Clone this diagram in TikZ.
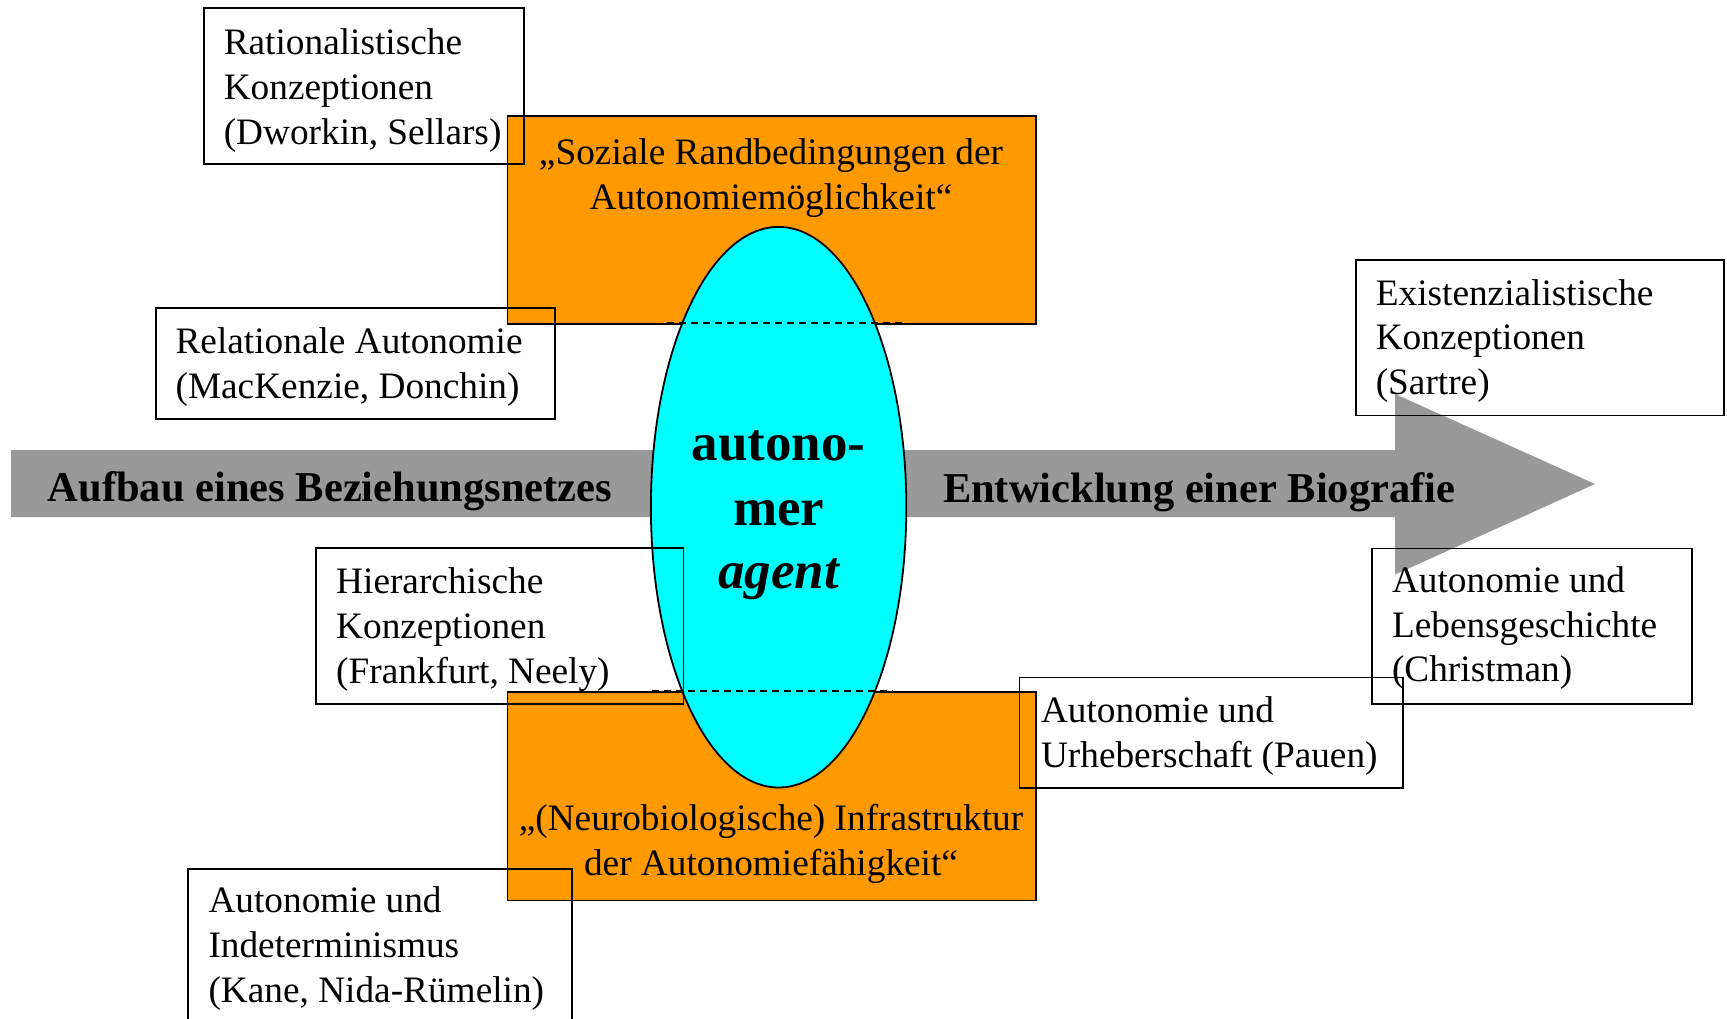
\documentclass[tikz,border=0pt]{standalone}
\usepackage{fontspec}
\setmainfont{Liberation Serif}
\usetikzlibrary{shapes.geometric}

\definecolor{barGrey}{RGB}{153,153,153}
\definecolor{boxOrange}{RGB}{255,153,0}
\definecolor{agentCyan}{RGB}{0,255,255}

% left- and centre-aligned stacks of lines, baseline on the first line
\newcommand\leftlines[1]{\begin{tabular}[t]{@{}l@{}}#1\end{tabular}}
\newcommand\centerlines[1]{\begin{tabular}[t]{@{}c@{}}#1\end{tabular}}

\tikzset{
  frame/.style={draw=black, line width=1.8pt, inner sep=0pt, anchor=north west},
  panel/.style={frame, fill=boxOrange},
  body/.style={inner sep=0pt, anchor=base west, font=\fontsize{37.3}{44.7}\selectfont},
  panelbody/.style={body, anchor=base},
  bartext/.style={inner sep=0pt, anchor=base west, font=\fontsize{42.5}{51}\selectfont\bfseries},
  agenttext/.style={inner sep=0pt, anchor=base, font=\fontsize{53}{64}\selectfont\bfseries},
  hidden edge/.style={line width=1.9pt, dash pattern=on 7pt off 5pt},
}

\begin{document}
\begin{tikzpicture}[x=1pt,y=-1pt]
\useasboundingbox (0,0) rectangle (1727,1019);
\clip (0,0) rectangle (1727,1019);

% broad grey arrow across the picture
\fill[barGrey] (11,450) -- (1395,450) -- (1395,394) -- (1595,484)
  -- (1395,574.6) -- (1395,517) -- (11,517) -- cycle;

% orange panels above and below the agent
\node[panel, minimum width=528.5pt, minimum height=208pt] (soz) at (506.5,115) {};
\node[panel, minimum width=528.5pt, minimum height=208.5pt] (neuro) at (506.5,691) {};

% the agent
\node[ellipse, draw=black, line width=1.8pt, fill=agentCyan, inner sep=0pt,
      minimum width=255.4pt, minimum height=560.6pt] (agent) at (778.6,507.2) {};

% panel edges seen through the agent
\draw[hidden edge] (667,323.3) -- (907,323.3);
\draw[hidden edge] (652,691) -- (893,691);

% texts on the bar and in the agent
\node[bartext] (aufbau) at (47.7,501.5) {Aufbau eines Beziehungsnetzes};
\node[bartext] (biografie) at (942.8,502) {Entwicklung einer Biografie};
\node[agenttext] (a1) at (778.6,460) {autono-};
\node[agenttext] (a2) at (778.6,525) {mer};
\node[agenttext] (a3) at (778.6,588) {\itshape agent};

% panel texts
\node[panelbody] (sozt) at (771,165) {\centerlines{„Soziale Randbedingungen der\\Autonomiemöglichkeit“}};
\node[panelbody] (neurot) at (771,830.7) {\centerlines{„(Neurobiologische) Infrastruktur\\der Autonomiefähigkeit“}};

% framed conceptions
\node[frame, minimum width=320pt, minimum height=156pt] (rat) at (203,7) {};
\node[body] (ratt) at (223.6,55) {\leftlines{Rationalistische\\Konzeptionen\\(Dworkin, Sellars)}};

\node[frame, minimum width=399pt, minimum height=111pt] (rel) at (155,307) {};
\node[body] (relt) at (175.4,353.3) {\leftlines{Relationale Autonomie\\(MacKenzie, Donchin)}};

\node[frame, minimum width=367.6pt, minimum height=155.7pt] (hier) at (315,547) {};
\node[body] (hiert) at (336,593.8) {\leftlines{Hierarchische\\Konzeptionen\\(Frankfurt, Neely)}};

\node[frame, minimum width=383.7pt, minimum height=180pt] (indet) at (187,868) {};
\node[body] (indett) at (208.3,912.8) {\leftlines{Autonomie und\\Indeterminismus\\(Kane, Nida-Rümelin)}};

\node[frame, minimum width=368.3pt, minimum height=155.5pt] (exist) at (1354.7,259) {};
\node[body] (existt) at (1375.6,305) {\leftlines{Existenzialistische\\Konzeptionen\\(Sartre)}};

\node[frame, minimum width=320pt, minimum height=155.5pt] (christ) at (1371,547.5) {};
\node[body] (christt) at (1391.8,592.5) {\leftlines{Autonomie und\\Lebensgeschichte\\(Christman)}};

\node[frame, minimum width=383.9pt, minimum height=110.8pt] (pauen) at (1018.5,676.5) {};
\node[body] (pauent) at (1040.8,722.9) {\leftlines{Autonomie und\\Urheberschaft (Pauen)}};
\end{tikzpicture}
\end{document}
